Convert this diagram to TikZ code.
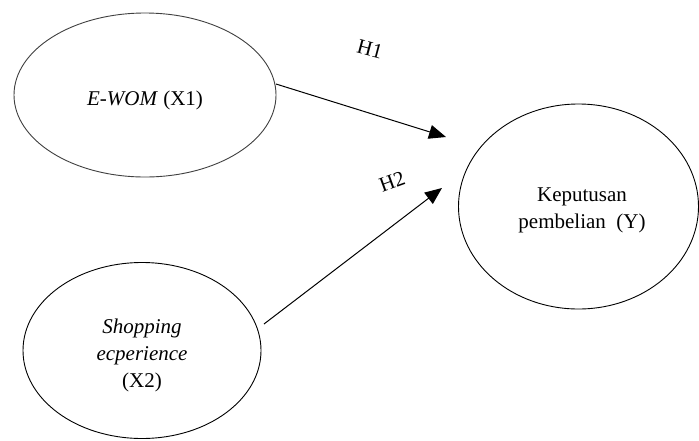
\documentclass[tikz,border=0pt]{standalone}
\usepackage{fontspec}
\setmainfont{Liberation Serif}
\usetikzlibrary{arrows.meta}
\tikzset{
  var/.style={draw=black, line width=0.9pt, ellipse, inner sep=0pt},
  lbl/.style={font=\fontsize{21}{27}\selectfont, align=center, inner sep=0pt},
  conn/.style={line width=1pt, -{Triangle[length=17pt,width=14pt]}},
}
\usetikzlibrary{shapes.geometric}
\begin{document}
\begin{tikzpicture}[x=1pt,y=-1pt]
\useasboundingbox (0,0) rectangle (699,440);
\fill[white] (0,0) rectangle (699,440);
% ellipses
\draw[line width=0.9pt, draw=black!75] (145,95) ellipse [x radius=131, y radius=82];
\draw[line width=0.9pt] (142,350.5) ellipse [x radius=119, y radius=88];
\draw[line width=0.9pt] (578.5,206.5) ellipse [x radius=120, y radius=102.5];
% labels
\node[lbl] (x1) at (145,100) {\textit{E-WOM} (X1)};
\node[lbl] (x2) at (142,355) {\textit{Shopping}\\\textit{ecperience}\\(X2)};
\node[lbl] (y) at (582,210) {Keputusan\\pembelian\ \ (Y)};
% connector endpoints
\coordinate (a1s) at (276,84);
\coordinate (a1e) at (446,137);
\coordinate (a2s) at (264,324);
\coordinate (a2e) at (442,188);
\draw[conn] (a1s) -- (a1e);
\draw[conn] (a2s) -- (a2e);
\node[lbl, rotate=-15] (h1) at (370,49) {H1};
\node[lbl, rotate=20] (h2) at (392,182) {H2};
\end{tikzpicture}
\end{document}
